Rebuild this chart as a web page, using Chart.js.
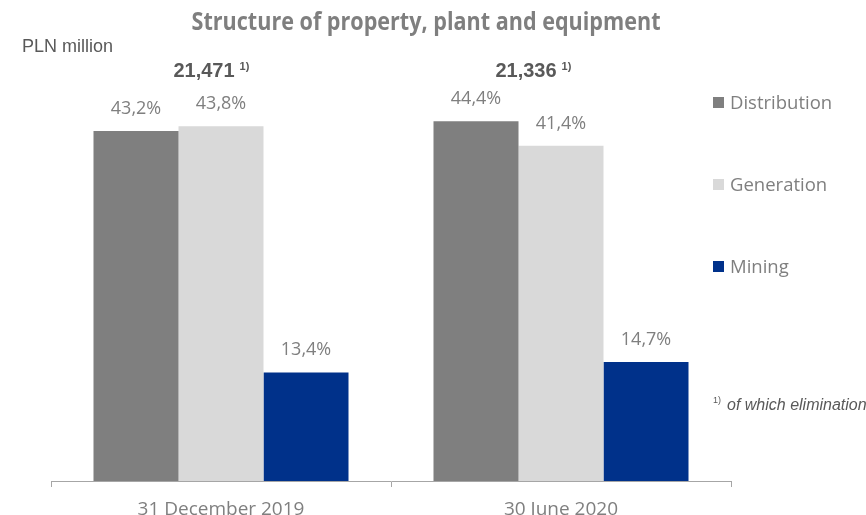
<!DOCTYPE html>
<html>
<head>
<meta charset="utf-8">
<title>Structure of property, plant and equipment</title>
<script src="https://cdn.jsdelivr.net/npm/chart.js@4/dist/chart.umd.min.js"></script>
<style>
  html, body { margin: 0; padding: 0; background: #fff; }
  #wrap { width: 866px; height: 515px; position: relative; }
</style>
</head>
<body>
<div id="wrap"><canvas id="ppeChart"></canvas></div>
<script>
// values
const CATEGORIES = ['31 December 2019', '30 June 2020'];
const DISTRIBUTION = [43.2, 44.4];
const GENERATION = [43.8, 41.4];
const MINING = [13.4, 14.7];
const TOTALS = ['21,471', '21,336'];

const TITLE = 'Structure of property, plant and equipment';
const UNIT = 'PLN million';
const FOOTNOTE = 'of which elimination';

const GREY_TXT = '#7f7f7f';
const DARK_TXT = '#595959';

const pct = v => v.toFixed(1).replace('.', ',') + '%';

// labels, totals, legend and title drawn on top of the bars
const overlay = {
    id: 'overlay',
    afterDatasetsDraw(chart, args, opts) {
        const ctx = chart.ctx;
        const xs = chart.scales.x;
        ctx.save();

        // title (narrow bold face, squeezed to the slide width)
        ctx.font = 'bold 25px "Open Sans"';
        ctx.fillStyle = GREY_TXT;
        ctx.textBaseline = 'alphabetic';
        ctx.textAlign = 'left';
        const tw = ctx.measureText(TITLE).width;
        const sx = opts.titleWidth / tw;
        ctx.save();
        ctx.translate(opts.titleCenter - opts.titleWidth / 2, 30);
        ctx.scale(sx, 1);
        ctx.fillText(TITLE, 0, 0);
        ctx.restore();

        // unit
        ctx.font = '18px "Liberation Sans"';
        ctx.fillStyle = DARK_TXT;
        ctx.fillText(UNIT, 22, 52);

        // value labels above every bar
        ctx.font = '18px "Open Sans"';
        ctx.fillStyle = GREY_TXT;
        ctx.textAlign = 'center';
        chart.data.datasets.forEach((ds, i) => {
            chart.getDatasetMeta(i).data.forEach((bar, j) => {
                ctx.fillText(pct(ds.data[j]), bar.x, bar.y - 17);
            });
        });

        // totals with footnote mark
        TOTALS.forEach((t, j) => {
            const cx = xs.getPixelForValue(j) + opts.totalNudge[j];
            ctx.font = 'bold 20px "Liberation Sans"';
            ctx.fillStyle = DARK_TXT;
            ctx.textAlign = 'center';
            ctx.fillText(t, cx, 77);
            const w = ctx.measureText(t).width;
            ctx.font = 'bold 11px "Liberation Sans"';
            ctx.textAlign = 'left';
            ctx.fillText('1)', cx + w / 2 + 5, 70);
        });

        // legend
        ctx.textAlign = 'left';
        chart.data.datasets.forEach((ds, i) => {
            const top = 97 + i * 82;
            ctx.fillStyle = ds.backgroundColor;
            ctx.fillRect(713, top, 11, 11);
            ctx.font = '18.5px "Open Sans"';
            ctx.fillStyle = GREY_TXT;
            ctx.fillText(ds.label, 730, top + 12);
        });

        // footnote
        ctx.fillStyle = DARK_TXT;
        ctx.font = '9px "Liberation Sans"';
        ctx.fillText('1)', 713, 403);
        ctx.font = 'italic 16px "Liberation Sans"';
        ctx.fillText(FOOTNOTE, 727, 410);

        ctx.restore();
    }
};

new Chart(document.getElementById('ppeChart'), {
    type: 'bar',
    data: {
        labels: CATEGORIES,
        datasets: [
            { label: 'Distribution', data: DISTRIBUTION, backgroundColor: '#7f7f7f' },
            { label: 'Generation', data: GENERATION, backgroundColor: '#d9d9d9' },
            { label: 'Mining', data: MINING, backgroundColor: '#00318a' }
        ]
    },
    options: {
        responsive: true, maintainAspectRatio: false,
        animation: false,
        datasets: { bar: { categoryPercentage: 0.75, barPercentage: 1, borderWidth: 0 } },
        layout: { padding: { top: 76, left: 51, right: 135, bottom: 0 } },
        plugins: {
            legend: { display: false },
            tooltip: { enabled: false },
            overlay: { titleCenter: 426, titleWidth: 469, totalNudge: [-17, -35] }
        },
        scales: {
            x: {
                afterFit: s => { s.height = 34; },
                grid: { display: true, drawOnChartArea: false, drawTicks: true, tickLength: 6, color: '#a6a6a6', offset: true },
                border: { display: true, color: '#a6a6a6', width: 1 },
                ticks: { color: GREY_TXT, font: { family: 'Open Sans', size: 19, lineHeight: 1 }, padding: 13 }
            },
            y: { display: false, min: 0, max: 50 }
        }
    },
    plugins: [overlay]
});
</script>
</body>
</html>
